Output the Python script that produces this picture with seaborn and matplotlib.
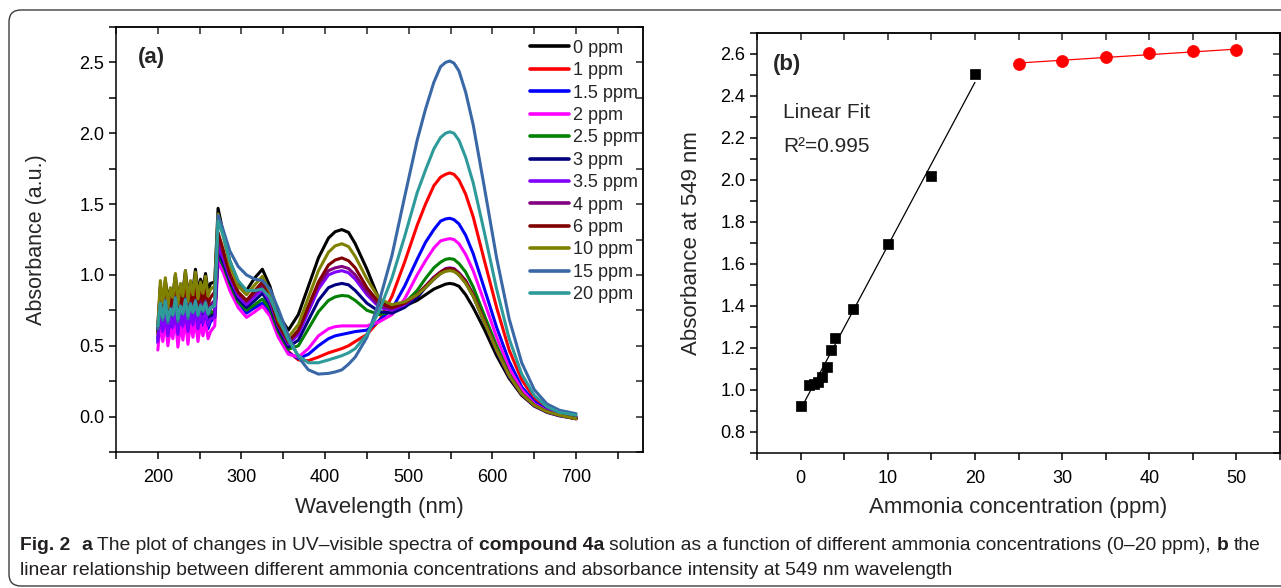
import numpy as np
import pandas as pd
import matplotlib
matplotlib.use("Agg")
import matplotlib.pyplot as plt
import seaborn as sns
from matplotlib import font_manager
from matplotlib.lines import Line2D
from matplotlib.patches import FancyBboxPatch
from matplotlib.ticker import MultipleLocator
from matplotlib.transforms import IdentityTransform

# ---------------- data: panel (a) UV-vis spectra ----------------
wl_noise = [200, 203, 206, 209, 212, 215, 218, 221, 224, 227, 230, 233, 236, 239, 242, 245,
            248, 251, 254, 257, 260, 263]
wl_smooth = [268, 272, 278, 286, 296, 306, 316, 325, 334, 344, 356, 368, 380, 392, 404,
             412, 420, 428, 436, 450, 465, 480, 495, 510, 520, 530, 538, 544, 549, 554,
             560, 568, 577, 590, 605, 620, 635, 650, 665, 680, 700]
wavelength = wl_noise + wl_smooth

abs_0 = [0.60, 0.92, 0.80, 0.96, 0.83, 0.90, 0.86, 1.00, 0.82, 0.93, 0.88, 1.03, 0.85, 0.95, 0.90, 1.04,
         0.87, 0.97, 0.91, 1.01, 0.89, 0.94,
         0.95, 1.47, 1.30, 1.10, 0.95, 0.89, 0.98, 1.04, 0.92, 0.72, 0.61, 0.72, 0.92, 1.12, 1.26,
         1.305, 1.32, 1.30, 1.22, 1.04, 0.82, 0.76, 0.78, 0.82, 0.86, 0.90, 0.92, 0.935, 0.94, 0.935,
         0.92, 0.86, 0.77, 0.62, 0.43, 0.27, 0.15, 0.075, 0.035, 0.01, -0.01]
abs_1 = [0.58, 0.78, 0.66, 0.80, 0.64, 0.74, 0.69, 0.82, 0.65, 0.77, 0.70, 0.84, 0.67, 0.79, 0.71, 0.83,
         0.69, 0.78, 0.72, 0.81, 0.70, 0.75,
         0.72, 1.15, 1.08, 0.95, 0.83, 0.74, 0.77, 0.80, 0.74, 0.60, 0.46, 0.40, 0.395, 0.42, 0.45,
         0.465, 0.48, 0.50, 0.53, 0.58, 0.68, 0.85, 1.09, 1.35, 1.50, 1.63, 1.69, 1.71, 1.72, 1.71,
         1.67, 1.57, 1.41, 1.11, 0.77, 0.47, 0.26, 0.13, 0.06, 0.02, 0.0]
abs_1_5 = [0.52, 0.72, 0.60, 0.74, 0.55, 0.68, 0.62, 0.76, 0.56, 0.70, 0.61, 0.75, 0.58, 0.72, 0.63, 0.74,
           0.60, 0.71, 0.64, 0.73, 0.62, 0.67,
           0.70, 1.13, 1.06, 0.93, 0.81, 0.73, 0.77, 0.80, 0.73, 0.58, 0.45, 0.41, 0.44, 0.50, 0.55,
           0.57, 0.58, 0.59, 0.60, 0.61, 0.68, 0.76, 0.92, 1.11, 1.23, 1.32, 1.38, 1.395, 1.40, 1.39,
           1.36, 1.28, 1.15, 0.91, 0.63, 0.39, 0.21, 0.105, 0.045, 0.015, -0.005]
abs_2 = [0.47, 0.66, 0.53, 0.68, 0.50, 0.62, 0.55, 0.70, 0.49, 0.64, 0.54, 0.69, 0.51, 0.66, 0.56, 0.68,
         0.53, 0.65, 0.57, 0.67, 0.55, 0.60,
         0.64, 1.09, 1.02, 0.89, 0.77, 0.70, 0.74, 0.78, 0.71, 0.56, 0.44, 0.42, 0.48, 0.57, 0.62,
         0.635, 0.64, 0.64, 0.64, 0.64, 0.67, 0.72, 0.83, 1.00, 1.10, 1.19, 1.24, 1.25, 1.256, 1.25,
         1.22, 1.145, 1.03, 0.815, 0.56, 0.34, 0.19, 0.09, 0.04, 0.01, -0.01]
abs_2_5 = [0.60, 0.80, 0.66, 0.82, 0.63, 0.76, 0.69, 0.84, 0.65, 0.78, 0.70, 0.83, 0.67, 0.80, 0.72, 0.82,
           0.69, 0.79, 0.73, 0.81, 0.71, 0.75,
           0.70, 1.15, 1.07, 0.94, 0.81, 0.75, 0.79, 0.83, 0.76, 0.60, 0.475, 0.50, 0.62, 0.74, 0.82,
           0.845, 0.855, 0.85, 0.82, 0.75, 0.72, 0.74, 0.80, 0.89, 0.975, 1.05, 1.09, 1.11, 1.115, 1.11,
           1.08, 1.02, 0.915, 0.72, 0.50, 0.30, 0.165, 0.08, 0.035, 0.01, -0.01]
abs_3 = [0.55, 0.76, 0.62, 0.78, 0.59, 0.72, 0.65, 0.80, 0.60, 0.74, 0.66, 0.79, 0.62, 0.76, 0.67, 0.78,
         0.64, 0.75, 0.68, 0.77, 0.66, 0.71,
         0.72, 1.17, 1.09, 0.96, 0.83, 0.77, 0.82, 0.87, 0.79, 0.62, 0.49, 0.54, 0.68, 0.82, 0.91,
         0.93, 0.94, 0.93, 0.89, 0.80, 0.74, 0.73, 0.77, 0.84, 0.91, 0.97, 1.01, 1.03, 1.035, 1.03,
         1.00, 0.945, 0.85, 0.67, 0.46, 0.28, 0.155, 0.075, 0.03, 0.005, -0.015]
abs_3_5 = [0.53, 0.74, 0.60, 0.76, 0.57, 0.70, 0.63, 0.78, 0.58, 0.72, 0.64, 0.77, 0.60, 0.74, 0.65, 0.76,
           0.62, 0.73, 0.66, 0.75, 0.64, 0.69,
           0.70, 1.20, 1.12, 0.98, 0.85, 0.79, 0.85, 0.90, 0.81, 0.64, 0.51, 0.58, 0.74, 0.90, 1.00,
           1.02, 1.03, 1.015, 0.97, 0.86, 0.77, 0.75, 0.79, 0.86, 0.92, 0.985, 1.02, 1.045, 1.05, 1.045,
           1.015, 0.96, 0.86, 0.68, 0.47, 0.29, 0.16, 0.08, 0.035, 0.01, -0.015]
abs_4 = [0.62, 0.84, 0.70, 0.86, 0.67, 0.80, 0.73, 0.88, 0.68, 0.82, 0.74, 0.87, 0.70, 0.84, 0.75, 0.86,
         0.72, 0.83, 0.76, 0.85, 0.74, 0.79,
         0.82, 1.26, 1.15, 1.00, 0.87, 0.81, 0.87, 0.92, 0.83, 0.65, 0.52, 0.60, 0.77, 0.93, 1.03,
         1.05, 1.06, 1.045, 1.00, 0.88, 0.78, 0.76, 0.80, 0.86, 0.92, 0.98, 1.02, 1.04, 1.045, 1.04,
         1.01, 0.955, 0.86, 0.68, 0.47, 0.29, 0.16, 0.08, 0.035, 0.01, -0.015]
abs_6 = [0.65, 0.90, 0.74, 0.92, 0.71, 0.85, 0.78, 0.94, 0.73, 0.88, 0.79, 0.93, 0.75, 0.90, 0.80, 0.92,
         0.77, 0.89, 0.81, 0.91, 0.79, 0.84,
         0.88, 1.30, 1.18, 1.01, 0.88, 0.82, 0.89, 0.95, 0.85, 0.65, 0.53, 0.61, 0.78, 0.95, 1.07,
         1.105, 1.12, 1.10, 1.05, 0.91, 0.80, 0.77, 0.80, 0.86, 0.92, 0.98, 1.02, 1.04, 1.045, 1.04,
         1.01, 0.955, 0.86, 0.68, 0.47, 0.29, 0.16, 0.08, 0.035, 0.01, -0.015]
abs_10 = [0.64, 0.96, 0.80, 0.98, 0.77, 0.91, 0.84, 1.01, 0.79, 0.94, 0.85, 1.03, 0.81, 0.96, 0.86, 1.02,
          0.83, 0.95, 0.87, 0.99, 0.85, 0.90,
          0.92, 1.43, 1.28, 1.07, 0.92, 0.86, 0.93, 0.99, 0.88, 0.68, 0.56, 0.65, 0.84, 1.03, 1.16,
          1.205, 1.22, 1.20, 1.13, 0.97, 0.83, 0.79, 0.81, 0.86, 0.91, 0.97, 1.01, 1.025, 1.03, 1.025,
          1.00, 0.94, 0.85, 0.67, 0.47, 0.29, 0.16, 0.08, 0.035, 0.01, -0.015]
abs_15 = [0.62, 0.80, 0.68, 0.82, 0.66, 0.76, 0.71, 0.84, 0.67, 0.78, 0.72, 0.83, 0.69, 0.80, 0.73, 0.82,
          0.71, 0.79, 0.74, 0.81, 0.72, 0.76,
          0.80, 1.42, 1.32, 1.17, 1.06, 1.00, 0.97, 0.96, 0.90, 0.76, 0.57, 0.42, 0.33, 0.30, 0.305,
          0.315, 0.33, 0.37, 0.42, 0.56, 0.82, 1.14, 1.55, 1.95, 2.17, 2.36, 2.47, 2.50, 2.51, 2.495,
          2.44, 2.29, 2.06, 1.63, 1.12, 0.69, 0.38, 0.19, 0.09, 0.045, 0.02]
abs_20 = [0.64, 0.80, 0.70, 0.81, 0.68, 0.76, 0.72, 0.83, 0.69, 0.78, 0.73, 0.82, 0.71, 0.79, 0.74, 0.81,
          0.72, 0.78, 0.75, 0.80, 0.73, 0.77,
          0.78, 1.38, 1.28, 1.10, 0.96, 0.89, 0.89, 0.90, 0.84, 0.70, 0.54, 0.43, 0.38, 0.38, 0.40,
          0.415, 0.43, 0.45, 0.48, 0.58, 0.75, 0.98, 1.27, 1.58, 1.74, 1.89, 1.97, 2.00, 2.01, 2.00,
          1.95, 1.83, 1.65, 1.31, 0.90, 0.55, 0.30, 0.15, 0.07, 0.03, 0.01]

conc_labels = ["0 ppm", "1 ppm", "1.5 ppm", "2 ppm", "2.5 ppm", "3 ppm", "3.5 ppm",
               "4 ppm", "6 ppm", "10 ppm", "15 ppm", "20 ppm"]
spectra = [abs_0, abs_1, abs_1_5, abs_2, abs_2_5, abs_3, abs_3_5, abs_4, abs_6, abs_10, abs_15, abs_20]
line_colors = ["#000000", "#ff0000", "#0000ff", "#ff00ff", "#008000", "#000080", "#8000ff",
               "#800080", "#800000", "#808000", "#3a68a6", "#2f9a9a"]

# ---------------- data: panel (b) absorbance at 549 nm ----------------
conc_low = [0, 1, 1.5, 2, 2.5, 3, 3.5, 4, 6, 10, 15, 20]
abs_low = [0.925, 1.025, 1.03, 1.04, 1.062, 1.108, 1.19, 1.248, 1.386, 1.695, 2.019, 2.503]
conc_high = [25, 30, 35, 40, 45, 50]
abs_high = [2.554, 2.568, 2.587, 2.603, 2.612, 2.617]

# ---------------- style ----------------
sns.set_theme(style="ticks")
plt.rcParams["font.family"] = ["Liberation Sans", "DejaVu Sans"]
plt.rcParams["axes.linewidth"] = 1.1
available = {f.name for f in font_manager.fontManager.ttflist}
cap_font = "Liberation Sans Narrow" if "Liberation Sans Narrow" in available else "Liberation Sans"

W, H = 1281, 588
fig = plt.figure(figsize=(W / 100, H / 100), dpi=100)
fig.patch.set_facecolor("white")

ax_a = fig.add_axes([116 / W, 1 - 452 / H, (643 - 116) / W, (452 - 27) / H])
ax_b = fig.add_axes([757 / W, 1 - 453 / H, (1280 - 757) / W, (453 - 33) / H])


def origin_ticks(ax, xmaj, xmin, ymaj, ymin):
    ax.xaxis.set_major_locator(MultipleLocator(xmaj))
    ax.xaxis.set_minor_locator(MultipleLocator(xmin))
    ax.yaxis.set_major_locator(MultipleLocator(ymaj))
    ax.yaxis.set_minor_locator(MultipleLocator(ymin))
    ax.tick_params(which="both", direction="out", length=5, width=1.1,
                   top=False, right=False, labelsize=13, colors="black")
    ax.tick_params(axis="x", pad=7)
    top = ax.secondary_xaxis("top")
    top.xaxis.set_major_locator(MultipleLocator(xmaj))
    top.xaxis.set_minor_locator(MultipleLocator(xmin))
    top.tick_params(which="both", direction="in", length=5, width=1.1, labeltop=False)
    right = ax.secondary_yaxis("right")
    right.yaxis.set_major_locator(MultipleLocator(ymaj))
    right.yaxis.set_minor_locator(MultipleLocator(ymin))
    right.tick_params(which="both", direction="in", length=5, width=1.1, labelright=False)
    for sp in ax.spines.values():
        sp.set_visible(True)
        sp.set_color("black")


# ---------------- panel (a) ----------------
df = pd.concat([pd.DataFrame({"wavelength": wavelength, "absorbance": vals, "conc": lab})
                for lab, vals in zip(conc_labels, spectra)], ignore_index=True)
sns.lineplot(data=df, x="wavelength", y="absorbance", hue="conc", hue_order=conc_labels,
             palette=line_colors, lw=2.2, estimator=None, sort=False, legend=False, ax=ax_a)
ax_a.set_xlim(150, 780)
ax_a.set_ylim(-0.25, 2.75)
origin_ticks(ax_a, 100, 50, 0.5, 0.25)
ax_a.set_xlabel("Wavelength (nm)", fontsize=16)
ax_a.set_ylabel("Absorbance (a.u.)", fontsize=15.5)
ax_a.xaxis.set_label_coords(0.5, -0.105)
ax_a.yaxis.set_label_coords(-0.131, 0.5)
ax_a.text(0.042, 0.928, "(a)", transform=ax_a.transAxes, fontsize=16, fontweight="bold",
          va="center", ha="left")
handles = [Line2D([], [], color=c, lw=2.6) for c in line_colors]
ax_a.legend(handles, conc_labels, loc="upper right", bbox_to_anchor=(0.99, 0.97),
            frameon=False, fontsize=13, handlelength=2.2, handletextpad=0.2,
            labelspacing=0.3, borderpad=0, borderaxespad=0)

# ---------------- panel (b) ----------------
fit_lo = np.polyfit(conc_low, abs_low, 1)
fit_hi = np.polyfit(conc_high, abs_high, 1)
xs_lo = np.array([conc_low[0], conc_low[-1]])
xs_hi = np.array([conc_high[0], conc_high[-1]])
sns.lineplot(x=xs_lo, y=np.polyval(fit_lo, xs_lo), color="black", lw=0.9, ax=ax_b)
sns.lineplot(x=xs_hi, y=np.polyval(fit_hi, xs_hi), color="red", lw=0.9, ax=ax_b)
sns.scatterplot(x=conc_low, y=abs_low, marker="s", s=60, color="black", edgecolor="black",
                linewidth=0.5, ax=ax_b, zorder=3)
sns.scatterplot(x=conc_high, y=abs_high, marker="o", s=75, color="red", edgecolor="red",
                linewidth=0.5, ax=ax_b, zorder=3)
ax_b.set_xlim(-5, 55)
ax_b.set_ylim(0.7, 2.7)
origin_ticks(ax_b, 10, 5, 0.2, 0.1)
ax_b.set_xlabel("Ammonia concentration (ppm)", fontsize=16)
ax_b.set_ylabel("Absorbance at 549 nm", fontsize=16)
ax_b.xaxis.set_label_coords(0.5, -0.105)
ax_b.yaxis.set_label_coords(-0.105, 0.5)
ax_b.text(0.031, 0.925, "(b)", transform=ax_b.transAxes, fontsize=16, fontweight="bold",
          va="center", ha="left")
ax_b.text(0.05, 0.81, "Linear Fit", transform=ax_b.transAxes, fontsize=15, va="center")
ax_b.text(0.05, 0.73, "R²=0.995", transform=ax_b.transAxes, fontsize=15, va="center")

# ---------------- outer frame ----------------
frame = FancyBboxPatch((9, 2), 1400, 576, boxstyle="round,pad=0,rounding_size=12",
                       transform=IdentityTransform(), fill=False, ec="#3c3c3c", lw=1.0)
fig.add_artist(frame)

# ---------------- caption ----------------
renderer = fig.canvas.get_renderer()
line1 = [("Fig. 2", True, 2), ("a", True, 1),
         ("The plot of changes in UV–visible spectra of", False, 1),
         ("compound 4a", True, 1),
         ("solution as a function of different ammonia concentrations (0–20 ppm),", False, 1),
         ("b", True, 1), ("the", False, 0)]
line2 = [("linear relationship between different ammonia concentrations and absorbance "
          "intensity at 549 nm wavelength", False, 0)]


def draw_runs(runs, y, size, color="#231f20"):
    probe_a = fig.text(0, 0, "x x", fontsize=size, family=cap_font, transform=IdentityTransform())
    probe_b = fig.text(0, 0, "xx", fontsize=size, family=cap_font, transform=IdentityTransform())
    space = probe_a.get_window_extent(renderer).width - probe_b.get_window_extent(renderer).width
    probe_a.remove()
    probe_b.remove()
    x = 20
    made = []
    for txt, bold, gaps in runs:
        t = fig.text(x, y, txt, fontsize=size, family=cap_font, color=color,
                     fontweight="bold" if bold else "normal", va="baseline",
                     transform=IdentityTransform())
        made.append(t)
        x += t.get_window_extent(renderer).width + gaps * space
    return x - 20, made


w10, tmp = draw_runs(line1, 38, 10)
for t in tmp:
    t.remove()
cap_size = 10 * 1245 / w10
draw_runs(line1, 38, cap_size)
draw_runs(line2, 13, cap_size)

fig.savefig("out.png", dpi=100, facecolor="white")
